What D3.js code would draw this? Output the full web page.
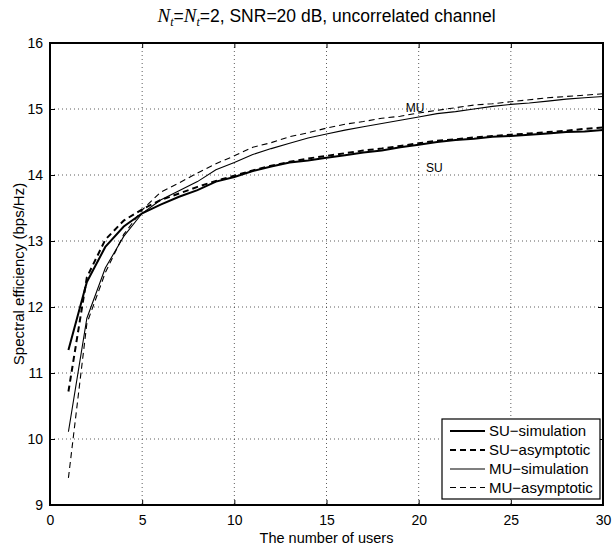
<!DOCTYPE html>
<html>
<head>
<meta charset="utf-8">
<script src="https://cdn.jsdelivr.net/npm/d3@7/dist/d3.min.js"></script>
<style>
  html, body { margin: 0; padding: 0; background: #fff; }
  svg { display: block; }
  text { font-family: "Liberation Sans", Arial, Helvetica, sans-serif; fill: #000; }
</style>
</head>
<body>
<svg id="chart" width="614" height="549"></svg>
<script>
// ---- data ----
const users = d3.range(1, 31);
const suSim = [11.35,12.38,12.91,13.22,13.42,13.55,13.67,13.77,13.90,13.97,
               14.06,14.13,14.19,14.22,14.26,14.30,14.34,14.37,14.42,14.46,
               14.50,14.53,14.55,14.58,14.59,14.61,14.63,14.65,14.66,14.68];
const suAsym = [10.72,12.45,13.02,13.31,13.48,13.62,13.72,13.82,13.91,13.99,
                14.07,14.14,14.20,14.25,14.29,14.33,14.37,14.40,14.44,14.48,
                14.52,14.54,14.57,14.59,14.61,14.63,14.65,14.67,14.70,14.72];
const muSim = [10.11,11.83,12.59,13.07,13.42,13.62,13.76,13.90,14.08,14.19,
               14.31,14.40,14.48,14.56,14.62,14.68,14.73,14.78,14.83,14.88,
               14.93,14.96,15.00,15.04,15.07,15.09,15.12,15.15,15.17,15.19];
const muAsym = [9.41,11.75,12.52,13.10,13.47,13.74,13.88,14.03,14.17,14.29,
                14.42,14.49,14.58,14.64,14.71,14.77,14.81,14.86,14.89,14.94,
                14.98,15.02,15.06,15.08,15.11,15.14,15.17,15.19,15.21,15.23];
const xTicks = [0, 5, 10, 15, 20, 25, 30];
const yTicks = [9, 10, 11, 12, 13, 14, 15, 16];
const seriesNames = ["SU\u2212simulation", "SU\u2212asymptotic", "MU\u2212simulation", "MU\u2212asymptotic"];

// ---- layout ----
const L = 50, R = 603, T = 43, B = 505;
const svg = d3.select("#chart");
const x = d3.scaleLinear().domain([0, 30]).range([L, R]);
const y = d3.scaleLinear().domain([9, 16]).range([B, T]);
const fmt = d3.format("d");

// grid
const grid = svg.append("g");
grid.selectAll("line.gx").data(xTicks.slice(1, -1)).enter().append("line")
  .attr("x1", d => x(d)).attr("x2", d => x(d)).attr("y1", T).attr("y2", B)
  .attr("stroke", "#333").attr("stroke-width", 0.8).attr("stroke-dasharray", "1,3");
grid.selectAll("line.gy").data(yTicks.slice(1, -1)).enter().append("line")
  .attr("x1", L).attr("x2", R).attr("y1", d => y(d)).attr("y2", d => y(d))
  .attr("stroke", "#333").attr("stroke-width", 0.8).attr("stroke-dasharray", "1,3");

// axes (inward ticks)
const axB = svg.append("g").attr("transform", `translate(0,${B})`)
  .call(d3.axisBottom(x).tickValues(xTicks).tickFormat(fmt).tickSizeInner(-5).tickSizeOuter(0).tickPadding(10));
const axT = svg.append("g").attr("transform", `translate(0,${T})`)
  .call(d3.axisTop(x).tickValues(xTicks).tickSizeInner(-5).tickSizeOuter(0).tickFormat(""));
const axL = svg.append("g").attr("transform", `translate(${L},0)`)
  .call(d3.axisLeft(y).tickValues(yTicks).tickFormat(fmt).tickSizeInner(-5).tickSizeOuter(0).tickPadding(7));
const axR = svg.append("g").attr("transform", `translate(${R},0)`)
  .call(d3.axisRight(y).tickValues(yTicks).tickSizeInner(-5).tickSizeOuter(0).tickFormat(""));
[axB, axT, axL, axR].forEach(a => {
  a.select(".domain").remove();
  a.selectAll(".tick line").attr("stroke", "#000").attr("stroke-width", 1);
  a.selectAll(".tick text").style("font-family", "'Liberation Sans', Arial, sans-serif")
    .style("font-size", "14px").attr("fill", "#000");
});
axB.selectAll(".tick text").attr("dy", "0.71em");

// curves
const line = d3.line().x((d, i) => x(users[i])).y(d => y(d));
const curves = [
  { data: suSim, w: 2, dash: null },
  { data: suAsym, w: 2, dash: "6,4" },
  { data: muSim, w: 1.1, dash: null },
  { data: muAsym, w: 1.1, dash: "6,4" }
];
svg.append("clipPath").attr("id", "pc").append("rect")
  .attr("x", L).attr("y", T).attr("width", R - L).attr("height", B - T);
svg.append("g").attr("clip-path", "url(#pc)").selectAll("path").data(curves).enter().append("path")
  .attr("d", d => line(d.data)).attr("fill", "none").attr("stroke", "#000")
  .attr("stroke-width", d => d.w).attr("stroke-dasharray", d => d.dash);

// frame
svg.append("rect").attr("x", L).attr("y", T).attr("width", R - L).attr("height", B - T)
  .attr("fill", "none").attr("stroke", "#000").attr("stroke-width", 2);

// annotations
svg.append("text").attr("x", x(19.3)).attr("y", y(14.96)).style("font-size", "12px").text("MU");
svg.append("text").attr("x", x(20.4)).attr("y", y(14.05)).style("font-size", "12px").text("SU");

// legend
const lg = svg.append("g");
lg.append("rect").attr("x", 442).attr("y", 419).attr("width", 158).attr("height", 80)
  .attr("fill", "#fff").attr("stroke", "#000").attr("stroke-width", 1.2);
const rowY = [431, 450, 469, 487.5];
curves.forEach((c, i) => {
  lg.append("line").attr("x1", 450).attr("x2", 485).attr("y1", rowY[i]).attr("y2", rowY[i])
    .attr("stroke", "#000").attr("stroke-width", c.w).attr("stroke-dasharray", c.dash);
  lg.append("text").attr("x", 489).attr("y", rowY[i]).attr("dy", "0.36em")
    .style("font-size", "15px").text(seriesNames[i]);
});

// axis labels
svg.append("text").attr("x", (L + R) / 2).attr("y", 543).attr("text-anchor", "middle")
  .style("font-size", "14.5px").text("The number of users");
svg.append("text").attr("transform", `translate(19,${(T + B) / 2}) rotate(-90)`)
  .attr("text-anchor", "middle").attr("dy", "0.35em")
  .style("font-size", "15px").text("Spectral efficiency (bps/Hz)");

// title
const title = svg.append("text").attr("x", (L + R) / 2).attr("y", 22).attr("text-anchor", "middle")
  .style("font-size", "17.5px");
const serif = "'Liberation Serif', 'Times New Roman', serif";
title.append("tspan").style("font-family", serif).style("font-style", "italic").style("font-size", "19px").text("N");
title.append("tspan").style("font-family", serif).style("font-style", "italic").style("font-size", "12px").attr("dy", 4).text("t");
title.append("tspan").attr("dy", -4).text("=");
title.append("tspan").style("font-family", serif).style("font-style", "italic").style("font-size", "19px").text("N");
title.append("tspan").style("font-family", serif).style("font-style", "italic").style("font-size", "12px").attr("dy", 4).text("t");
title.append("tspan").attr("dy", -4).text("=2, SNR=20 dB, uncorrelated channel");
</script>
</body>
</html>
